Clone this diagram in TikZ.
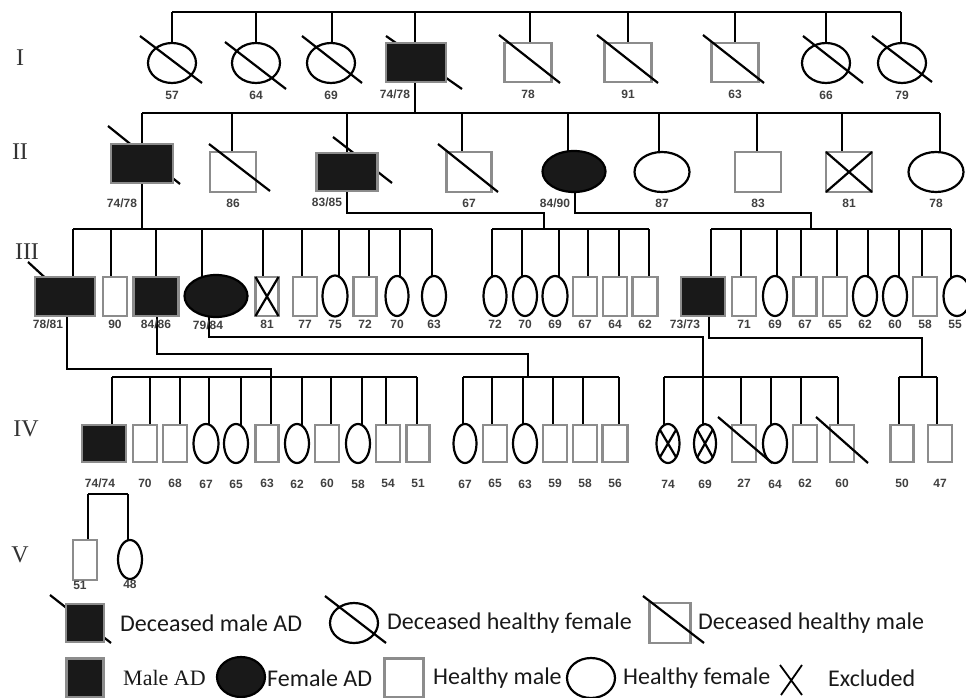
\documentclass[tikz,border=0pt]{standalone}
\usepackage{fontspec}
\setmainfont{Carlito}
\newfontfamily\agefont{Liberation Sans}
\newfontfamily\romfont{Liberation Serif}
\usetikzlibrary{shapes.geometric,calc,backgrounds}
\tikzset{
  link/.style={line width=2.2pt, black},
  slash/.style={line width=2.2pt, black},
  male/.style={rectangle, draw=black!45, line width=2.4pt, fill=white, inner sep=0pt, outer sep=0pt},
  female/.style={ellipse, draw=black, line width=2.2pt, fill=white, inner sep=0pt, outer sep=0pt},
  ad/.style={fill=black!90},
  sz/.style 2 args={minimum width=#1pt, minimum height=#2pt},
  age/.style={font=\agefont\bfseries\fontsize{12}{12}\selectfont, text=black!75, inner sep=0pt},
  gen/.style={font=\romfont\fontsize{24}{24}\selectfont, inner sep=0pt, text=black!80},
  legtxt/.style={font=\fontsize{24}{24}\selectfont, anchor=west, inner sep=0pt, text=black!90},
}

\begin{document}
\begin{tikzpicture}[x=1pt, y=-1pt, every label/.style=age]
  \useasboundingbox (0,0) rectangle (966,698);

  % generation numerals
  \node[gen] (gI) at (20,58) {I};
  \node[gen] (gII) at (20,152) {II};
  \node[gen] (gIII) at (27,252) {III};
  \node[gen] (gIV) at (26,429) {IV};
  \node[gen] (gV) at (20,555) {V};

  % bar heights
  \coordinate (barI) at (0,12);
  \coordinate (barII) at (0,113);
  \coordinate (barIII) at (0,229);
  \coordinate (barIV) at (0,377);
  \coordinate (barV) at (0,494);

  % generation I
  \begin{scope}[label distance=8pt]
    \node[female, sz={48}{40}, label={below:57}] (i1) at (172,63) {};
    \node[female, sz={48}{40}, label={below:64}] (i2) at (256,63) {};
    \node[female, sz={48}{40}, label={below:69}] (i3) at (331,63) {};
    \node[male, ad, sz={60}{39}, label={[xshift=-21pt]below:74/78}] (i4) at (416,62.5) {};
    \node[male, sz={47}{39}, label={below:78}] (i5) at (528,62.5) {};
    \node[male, sz={47}{39}, label={below:91}] (i6) at (628,62.5) {};
    \node[male, sz={47}{39}, label={below:63}] (i7) at (735,62.5) {};
    \node[female, sz={48}{40}, label={below:66}] (i8) at (826,63) {};
    \node[female, sz={48}{40}, label={below:79}] (i9) at (902,63) {};
  \end{scope}
  \draw[slash] (140,36) -- (202,83);
  \draw[slash] (225,42) -- (286,89);
  \draw[slash] (302,36) -- (362,83);
  \draw[slash] (499,35) -- (560,83);
  \draw[slash] (597,35) -- (658,83);
  \draw[slash] (703,35) -- (764,83);
  \draw[slash] (803,36) -- (863,83);
  \draw[slash] (872,36) -- (932,82);

  % generation II
  \begin{scope}[label distance=7pt]
    \node[male, ad, sz={62}{39}, label={[xshift=-20pt, label distance=16pt]below:74/78}] (ii1) at (142,163.5) {};
    \node[male, sz={46}{40}, label={below:86}] (ii2) at (233,172) {};
    \node[male, ad, sz={61}{38}, label={[xshift=-20pt]below:83/85}] (ii3) at (347,172) {};
    \node[male, sz={45}{40}, label={below:67}] (ii4) at (469,172) {};
    \node[female, ad, sz={63}{41}, label={[xshift=-19pt]below:84/90}] (ii5) at (574,171.5) {};
    \node[female, sz={55}{40}, label={below:87}] (ii6) at (662,172) {};
    \node[male, sz={46}{40}, label={below:83}] (ii7) at (758,172) {};
    \node[male, sz={46}{40}, label={below:81}] (ii8) at (849,172) {};
    \node[female, sz={55}{40}, label={below:78}] (ii9) at (936,172) {};
  \end{scope}
  \draw[slash] (209,144) -- (270,191);
  \draw[slash] (438,144) -- (498,192);
  \draw[link] (ii8.north west) -- (ii8.south east) (ii8.north east) -- (ii8.south west);

  % generation III
  \begin{scope}[label distance=4pt]
    \node[male, ad, sz={60}{39}, label={[xshift=-17pt]below:78/81}] (iii1) at (65,296.5) {};
    \node[male, sz={24}{39}, label={below:90}] (iii2) at (115,296.5) {};
    \node[male, ad, sz={45}{39}, label={below:84/86}] (iii3) at (156,296.5) {};
    \node[female, ad, sz={63}{42}, label={[xshift=-8pt]below:79/84}] (iii4) at (216,296) {};
    \node[male, sz={23}{39}, label={below:81}] (iii5) at (267,296.5) {};
    \node[male, sz={24}{39}, label={below:77}] (iii6) at (305,296.5) {};
    \node[female, sz={25}{41}, label={below:75}] (iii7) at (335,296) {};
    \node[male, sz={23}{39}, label={below:72}] (iii8) at (365,296.5) {};
    \node[female, sz={23}{40}, label={below:70}] (iii9) at (397,296) {};
    \node[female, sz={24}{40}, label={below:63}] (iii10) at (434,296) {};
    \node[female, sz={23}{40}, label={below:72}] (iii11) at (495,296) {};
    \node[female, sz={24}{40}, label={below:70}] (iii12) at (525,296) {};
    \node[female, sz={25}{40}, label={below:69}] (iii13) at (555,296) {};
    \node[male, sz={24}{39}, label={below:67}] (iii14) at (585,296.5) {};
    \node[male, sz={24}{39}, label={below:64}] (iii15) at (615,296.5) {};
    \node[male, sz={25}{39}, label={below:62}] (iii16) at (645,296.5) {};
    \node[male, ad, sz={44}{39}, label={[xshift=-18pt]below:73/73}] (iii17) at (703,296.5) {};
    \node[male, sz={24}{39}, label={below:71}] (iii18) at (744,296.5) {};
    \node[female, sz={24}{40}, label={below:69}] (iii19) at (775,296) {};
    \node[male, sz={23}{39}, label={below:67}] (iii20) at (805,296.5) {};
    \node[male, sz={24}{39}, label={below:65}] (iii21) at (835,296.5) {};
    \node[female, sz={24}{40}, label={below:62}] (iii22) at (865,296) {};
    \node[female, sz={24}{40}, label={below:60}] (iii23) at (895,296) {};
    \node[male, sz={24}{39}, label={below:58}] (iii24) at (925,296.5) {};
    \node[female, sz={27}{40}, label={[xshift=-2pt]below:55}] (iii25) at (957,296) {};
  \end{scope}
  \draw[link] (iii5.north west) -- (iii5.south east) (iii5.north east) -- (iii5.south west);

  % generation IV
  \begin{scope}[label distance=17pt]
    \node[male, ad, sz={44}{37}, label={[xshift=-4pt]below:74/74}] (iv1) at (104,443.5) {};
    \node[male, sz={24}{37}, label={below:70}] (iv2) at (145,443.5) {};
    \node[male, sz={24}{37}, label={below:68}] (iv3) at (175,443.5) {};
    \node[female, sz={25}{39}, label={below:67}] (iv4) at (206,443.5) {};
    \node[female, sz={24}{39}, label={below:65}] (iv5) at (236,443.5) {};
    \node[male, sz={23}{37}, label={below:63}] (iv6) at (267,443.5) {};
    \node[female, sz={24}{39}, label={below:62}] (iv7) at (297,443.5) {};
    \node[male, sz={24}{37}, label={below:60}] (iv8) at (327,443.5) {};
    \node[female, sz={24}{39}, label={below:58}] (iv9) at (358,443.5) {};
    \node[male, sz={24}{37}, label={below:54}] (iv10) at (388,443.5) {};
    \node[male, sz={23}{37}, label={below:51}] (iv11) at (418,443.5) {};
    \node[female, sz={23}{39}, label={below:67}] (iv12) at (465,443.5) {};
    \node[male, sz={24}{37}, label={below:65}] (iv13) at (495,443.5) {};
    \node[female, sz={24}{39}, label={below:63}] (iv14) at (525,443.5) {};
    \node[male, sz={24}{37}, label={below:59}] (iv15) at (555,443.5) {};
    \node[male, sz={24}{37}, label={below:58}] (iv16) at (585,443.5) {};
    \node[male, sz={25}{37}, label={below:56}] (iv17) at (615,443.5) {};
    \node[female, sz={23}{39}, label={below:74}] (iv18) at (668,443.5) {};
    \node[female, sz={22}{39}, label={below:69}] (iv19) at (705,443.5) {};
    \node[male, sz={24}{37}, label={below:27}] (iv20) at (744,443.5) {};
    \node[female, sz={24}{39}, label={below:64}] (iv21) at (775,443.5) {};
    \node[male, sz={24}{37}, label={below:62}] (iv22) at (805,443.5) {};
    \node[male, sz={24}{37}, label={below:60}] (iv23) at (842,443.5) {};
    \node[male, sz={23}{37}, label={below:50}] (iv24) at (902,443.5) {};
    \node[male, sz={24}{37}, label={below:47}] (iv25) at (940,443.5) {};
  \end{scope}
  \draw[link] (iv18.north west) -- (iv18.south east) (iv18.north east) -- (iv18.south west);
  \draw[link] (iv19.north west) -- (iv19.south east) (iv19.north east) -- (iv19.south west);
  \draw[slash] (718,417) -- (772,463);
  \draw[slash] (816,417) -- (868,463);

  % generation V
  \begin{scope}[label distance=1pt]
    \node[male, sz={24}{40}, label={[xshift=-5pt]below:51}] (v1) at (85,560) {};
    \node[female, sz={24}{39}, label={below:48}] (v2) at (130,559.5) {};
  \end{scope}

  % legend
  \node[male, ad, sz={38}{38}] (leg1) at (85,623) {};
  \node[legtxt] (t1) at (120,623) {Deceased male AD};
  \node[female, sz={48}{40}] (leg2) at (354,623) {};
  \draw[slash] (325,596) -- (386,643);
  \node[legtxt] (t2) at (387,623) {Deceased healthy female};
  \node[male, sz={41}{40}] (leg3) at (670,623) {};
  \draw[slash] (643,596) -- (704,643);
  \node[legtxt] (t3) at (698,623) {Deceased healthy male};
  \node[male, ad, sz={37}{39}] (leg4) at (85,678) {};
  \node[legtxt, font=\romfont\fontsize{22}{22}\selectfont] (t4) at (123,678) {Male AD};
  \node[female, ad, sz={48}{40}] (leg5) at (241,677) {};
  \node[legtxt] (t5) at (267,678) {Female AD};
  \node[male, sz={39}{39}] (leg6) at (404,678) {};
  \node[legtxt] (t6) at (433,678) {Healthy male};
  \node[female, sz={48}{40}] (leg7) at (591,678) {};
  \node[legtxt] (t7) at (623,678) {Healthy female};
  \draw[line width=1.8pt] (780,665) -- (802,695) (802,665) -- (781,695);
  \node[legtxt] (t8) at (828,678) {Excluded};

  % connectors, behind the symbols
  \begin{scope}[on background layer]
    \draw[slash] (386,36) -- (462,89);
    \draw[slash] (108,126) -- (180,184);
    \draw[slash] (333,137) -- (392,183);
    \draw[slash] (28,262) -- (65,296);
    \draw[slash] (50,595) -- (111,643);

    \foreach \n/\d in {i1/0,i2/0,i3/1,i4/-1,i5/2,i6/0,i7/0,i8/0,i9/-1}
      \draw[link] ($(\n.center)+(\d,0)$) coordinate (d\n) -- (d\n |- barI);
    \draw[link] (di1 |- barI) -- (di9 |- barI);

    \foreach \n/\d in {ii1/0,ii2/-1,ii3/0,ii4/-7,ii5/-6,ii6/-3,ii7/-1,ii8/-7,ii9/4}
      \draw[link] ($(\n.center)+(\d,0)$) coordinate (d\n) -- (d\n |- barII);
    \draw[link] (dii1 |- barII) -- (dii9 |- barII);
    \draw[link] (di4) -- (di4 |- barII);

    \foreach \n/\d in {iii1/8,iii2/-4,iii3/0,iii4/-14,iii5/-4,iii6/-3,iii7/4,iii8/4,iii9/3,iii10/-2,
                       iii11/-3,iii12/-3,iii13/4,iii14/3,iii15/4,iii16/4,
                       iii17/8,iii18/-3,iii19/2,iii20/-4,iii21/2,iii22/3,iii23/4,iii24/-3,iii25/-6}
      \draw[link] ($(\n.center)+(\d,0)$) coordinate (d\n) -- (d\n |- barIII);
    \draw[link] (diii1 |- barIII) -- (diii10 |- barIII);
    \draw[link] (diii11 |- barIII) -- (diii16 |- barIII);
    \draw[link] (diii17 |- barIII) -- (diii25 |- barIII);

    \foreach \n/\d in {iv1/8,iv2/5,iv3/5,iv4/3,iv5/5,iv6/4,iv7/5,iv8/4,iv9/4,iv10/-2,iv11/-1,
                       iv12/-2,iv13/-3,iv14/-2,iv15/-2,iv16/-2,iv17/4,
                       iv18/-4,iv19/-2,iv20/-3,iv21/-4,iv22/-4,iv23/-4,iv24/-3,iv25/-3}
      \draw[link] ($(\n.center)+(\d,0)$) coordinate (d\n) -- (d\n |- barIV);
    \draw[link] (div1 |- barIV) -- (div11 |- barIV);
    \draw[link] (div12 |- barIV) -- (div17 |- barIV);
    \draw[link] (div18 |- barIV) -- (div23 |- barIV);
    \draw[link] (div24 |- barIV) -- (div25 |- barIV);

    \foreach \n/\d in {v1/3,v2/-2}
      \draw[link] ($(\n.center)+(\d,0)$) coordinate (d\n) -- (d\n |- barV);
    \draw[link] (dv1 |- barV) -- (dv2 |- barV);

    % parents to their children
    \coordinate (jB) at (544,213);
    \coordinate (jC) at (811,213);
    \coordinate (jD) at (271,369);
    \coordinate (jE) at (528,354);
    \coordinate (jF) at (703,337);
    \coordinate (jG) at (922,338);
    \draw[link] (ii1) -- (ii1 |- barIII);
    \draw[link] (ii3) |- (jB) -- (jB |- barIII);
    \draw[link] ($(ii5.center)+(1,0)$) |- (jC) -- (jC |- barIII);
    \draw[link] ($(iii1.center)+(2,0)$) |- (jD) -- (jD |- barIV);
    \draw[link] ($(iii3.center)+(1,0)$) |- (jE) -- (jE |- barIV);
    \draw[link] ($(iii4.center)+(-7,0)$) |- (jF) -- (jF |- barIV);
    \draw[link] ($(iii17.center)+(6,0)$) |- (jG) -- (jG |- barIV);
    \draw[link] ($(iv1.center)+(1,0)$) -- ($(iv1.center)+(1,0)$ |- barV);
  \end{scope}
\end{tikzpicture}
\end{document}
